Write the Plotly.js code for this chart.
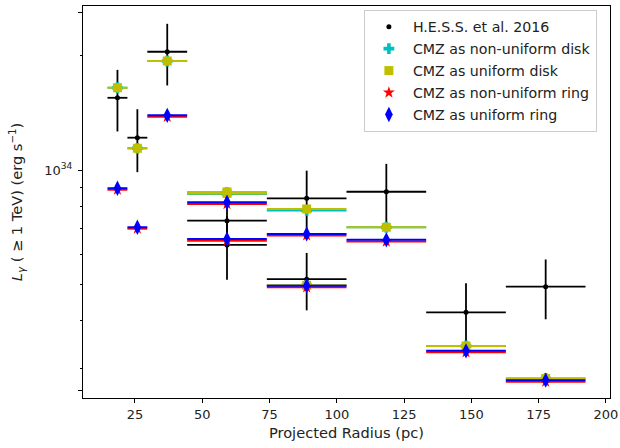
<!DOCTYPE html>
<html>
<head>
<meta charset="utf-8">
<script src="https://cdn.plot.ly/plotly-3.0.1.min.js"></script>
<style>html,body{margin:0;padding:0;background:#fff;}#chart{width:620px;height:448px;}</style>
</head>
<body>
<div id="chart"></div>
<script>
// Bin centres and half-widths (pc)
var radius = [18.5, 25.9, 37.0, 59.2, 59.2, 88.8, 88.8, 118.4, 148.0, 177.6];
var halfWidth = [3.7, 3.7, 7.4, 14.8, 14.8, 14.8, 14.8, 14.8, 14.8, 14.8];

// H.E.S.S. et al. 2016 luminosities (erg/s) and errors
var hessL = [1.551e34, 1.217e34, 2.052e34, 7.35e33, 6.34e33, 8.42e33, 5.15e33, 8.76e33, 4.21e33, 4.92e33];
var hessErr = [2.87e33, 2.30e33, 3.80e33, 0.90e33, 1.21e33, 1.54e33, 0.89e33, 1.62e33, 0.81e33, 0.885e33];

// Model luminosities (erg/s)
var nonUniformDisk = [1.649e34, 1.141e34, 1.940e34, 8.72e33, 8.64e33, 7.82e33, 4.96e33, 7.06e33, 3.43e33, 2.815e33];
var uniformDisk    = [1.649e34, 1.141e34, 1.940e34, 8.75e33, 8.67e33, 7.89e33, 4.96e33, 7.06e33, 3.43e33, 2.815e33];
var nonUniformRing = [8.87e33, 7.00e33, 1.382e34, 8.13e33, 6.50e33, 6.72e33, 4.90e33, 6.47e33, 3.30e33, 2.76e33];
var uniformRing    = [8.95e33, 7.06e33, 1.394e34, 8.22e33, 6.57e33, 6.78e33, 4.95e33, 6.54e33, 3.33e33, 2.787e33];

// Axis ticks
var xTicks = [25, 50, 75, 100, 125, 150, 175, 200];
var yLabelled = [1e34];
var yLabelledText = ['10<sup>34</sup>'];
var yOtherMajor = [2.61e33, 2.61e34];
var yMinor = [3e33, 4e33, 5e33, 6e33, 7e33, 8e33, 9e33, 2e34];
var yRange = [33.398, 34.433];

function modelTrace(name, y, color, symbol, size, gi) {
  return {
    x: radius, y: y, name: name, type: 'scatter', mode: 'markers',
    legendgroup: 'g' + gi,
    marker: {color: color, symbol: symbol, size: size, line: {width: 0}},
    error_x: {type: 'data', array: halfWidth, color: color, thickness: 2, width: 0},
    hoverinfo: 'x+y'
  };
}

var traces = [
  {
    x: radius, y: hessL, name: 'H.E.S.S. et al. 2016', type: 'scatter', mode: 'markers',
    legendgroup: 'g0',
    marker: {color: '#000000', symbol: 'circle', size: 5},
    error_x: {type: 'data', array: halfWidth, color: '#000000', thickness: 1.8, width: 0},
    error_y: {type: 'data', array: hessErr, color: '#000000', thickness: 1.8, width: 0}
  },
  modelTrace('CMZ as non-uniform disk', nonUniformDisk, '#00bfbf', 'cross', 9, 1),
  modelTrace('CMZ as uniform disk', uniformDisk, '#bfbf00', 'square', 9, 2),
  modelTrace('CMZ as non-uniform ring', nonUniformRing, '#ff0000', 'star', 9, 3),
  modelTrace('CMZ as uniform ring', uniformRing, '#0000ff', 'diamond-tall', 11, 4),
  // empty helper trace so the overlay axis carrying the extra long ticks is drawn
  {x: [], y: [], yaxis: 'y2', type: 'scatter', mode: 'markers', showlegend: false, hoverinfo: 'skip'}
];

var tickFont = {family: 'DejaVu Sans, sans-serif', size: 13, color: '#222222'};
var titleFont = {family: 'DejaVu Sans, sans-serif', size: 14.6, color: '#222222'};

var layout = {
  width: 620, height: 448,
  margin: {l: 83, r: 10, t: 6, b: 50, pad: 0},
  paper_bgcolor: '#ffffff', plot_bgcolor: '#ffffff',
  font: tickFont,
  showlegend: true,
  legend: {
    x: 0.533, y: 0.99, xanchor: 'left', yanchor: 'top',
    bgcolor: 'rgba(255,255,255,0.85)', bordercolor: '#cccccc', borderwidth: 1,
    font: {family: 'DejaVu Sans, sans-serif', size: 14.2, color: '#222222'},
    tracegroupgap: 0.5, itemwidth: 38
  },
  xaxis: {
    range: [5.7, 201.5], tickmode: 'array', tickvals: xTicks,
    ticks: 'outside', ticklen: 4, tickwidth: 1, tickcolor: '#000',
    tickfont: tickFont,
    showline: true, linecolor: '#000', linewidth: 1, mirror: true,
    showgrid: false, zeroline: false,
    title: {text: 'Projected Radius (pc)', font: titleFont, standoff: 7}
  },
  yaxis: {
    type: 'log', range: yRange,
    tickmode: 'array', tickvals: yLabelled, ticktext: yLabelledText,
    ticks: 'outside', ticklen: 4, tickwidth: 1, tickcolor: '#000',
    ticklabelstandoff: 3,
    tickfont: tickFont,
    minor: {tickmode: 'array', tickvals: yMinor, ticks: 'outside', ticklen: 2, tickwidth: 1, tickcolor: '#000', showgrid: false},
    showline: true, linecolor: '#000', linewidth: 1, mirror: true,
    showgrid: false, zeroline: false,
    title: {text: '<i>L</i><sub><i>γ</i></sub> ( ≥ 1 TeV) (erg s<sup>−1</sup>)', font: titleFont, standoff: 18}
  },
  yaxis2: {
    type: 'log', range: yRange, overlaying: 'y', side: 'left',
    tickmode: 'array', tickvals: yOtherMajor, showticklabels: false,
    ticks: 'outside', ticklen: 4, tickwidth: 1, tickcolor: '#000',
    showline: false, showgrid: false, zeroline: false
  }
};

Plotly.newPlot('chart', traces, layout, {displayModeBar: false, staticPlot: true});
</script>
</body>
</html>
